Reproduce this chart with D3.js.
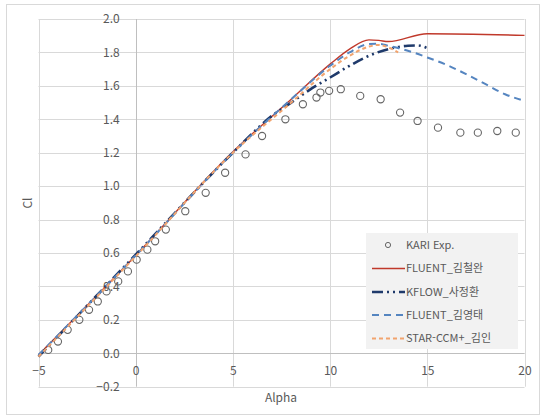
<!DOCTYPE html>
<html lang="ko">
<head>
<meta charset="utf-8">
<script src="https://cdn.jsdelivr.net/npm/d3@7"></script>
<style>
  body { margin: 0; background: #fff; }
  svg text { font-family: "Malgun Gothic", "Noto Sans CJK KR", sans-serif; fill: #595959; }
</style>
</head>
<body>
<svg id="chart" width="542" height="417"></svg>
<script>
// experiment (KARI)
var expAlpha = [-4.5, -4, -3.5, -2.9, -2.4, -1.95, -1.5, -0.9, -0.4, 0.05, 0.6, 1, 1.55, 2.55, 3.6, 4.6, 5.65, 6.5, 7.7, 8.6, 9.3, 9.5, 9.95, 10.55, 11.55, 12.6, 13.6, 14.5, 15.55, 16.7, 17.6, 18.6, 19.55];
var expCl    = [0.02, 0.07, 0.14, 0.2, 0.26, 0.31, 0.37, 0.43, 0.49, 0.56, 0.62, 0.67, 0.74, 0.85, 0.96, 1.08, 1.19, 1.3, 1.4, 1.49, 1.53, 1.56, 1.57, 1.58, 1.54, 1.52, 1.44, 1.39, 1.35, 1.32, 1.32, 1.33, 1.32];

// CFD results
var fluentKimAlpha = [-5, 0, 5, 8, 10, 11, 12, 12.5, 13, 15, 20];
var fluentKimCl    = [-0.01, 0.585, 1.205, 1.52, 1.73, 1.82, 1.875, 1.872, 1.865, 1.912, 1.902];

var kflowAlpha = [-5, 0, 5, 7, 8, 9, 10, 11, 12, 13, 14, 14.5, 15];
var kflowCl    = [-0.02, 0.59, 1.2, 1.42, 1.5, 1.58, 1.65, 1.72, 1.78, 1.82, 1.84, 1.842, 1.825];

var fluentYtAlpha = [-5, 0, 5, 8, 10, 11, 12, 12.5, 13, 14, 15, 16, 17, 18, 19, 20];
var fluentYtCl    = [-0.01, 0.585, 1.2, 1.52, 1.72, 1.8, 1.85, 1.852, 1.84, 1.81, 1.77, 1.725, 1.67, 1.61, 1.55, 1.51];

var starAlpha = [-5, 0, 5, 8, 10, 11, 12, 12.5, 13, 13.5];
var starCl    = [-0.02, 0.58, 1.2, 1.5, 1.7, 1.78, 1.835, 1.845, 1.83, 1.8];

var xTicks = [-5, 0, 5, 10, 15, 20];
var yTicks = [-0.2, 0, 0.2, 0.4, 0.6, 0.8, 1.0, 1.2, 1.4, 1.6, 1.8, 2.0];

var series = [
  { name: "FLUENT_김철완", a: fluentKimAlpha, c: fluentKimCl, color: "#c0392b", width: 1.4, dash: null },
  { name: "KFLOW_사정환", a: kflowAlpha, c: kflowCl, color: "#1f3a6b", width: 2.6, dash: "11,4,2,4,2,4" },
  { name: "FLUENT_김영태", a: fluentYtAlpha, c: fluentYtCl, color: "#5585c0", width: 2, dash: "7,5" },
  { name: "STAR-CCM+_김인", a: starAlpha, c: starCl, color: "#f2a46e", width: 2, dash: "4,3" }
];

var svg = d3.select("#chart");

var x = d3.scaleLinear().domain([-5, 20]).range([38.5, 524.5]);
var y = d3.scaleLinear().domain([-0.2, 2.0]).range([386.7, 19]);

// outer frame
svg.append("rect")
  .attr("x", 6.5).attr("y", 4.5).attr("width", 533).attr("height", 410)
  .attr("fill", "#fff").attr("stroke", "#d9d9d9");

// gridlines
svg.append("g").selectAll("line").data(yTicks).enter().append("line")
  .attr("x1", x(-5)).attr("x2", x(20))
  .attr("y1", function(d) { return Math.round(y(d)) + 0.5; })
  .attr("y2", function(d) { return Math.round(y(d)) + 0.5; })
  .attr("stroke", "#d9d9d9");
svg.append("g").selectAll("line").data(xTicks).enter().append("line")
  .attr("y1", y(2.0)).attr("y2", y(-0.2))
  .attr("x1", function(d) { return Math.round(x(d)) + 0.5; })
  .attr("x2", function(d) { return Math.round(x(d)) + 0.5; })
  .attr("stroke", function(d) { return d === 0 ? "#bfbfbf" : "#d9d9d9"; });
svg.append("line")
  .attr("x1", x(-5)).attr("x2", x(20))
  .attr("y1", Math.round(y(0)) + 0.5).attr("y2", Math.round(y(0)) + 0.5)
  .attr("stroke", "#bfbfbf");

// axes cross at the origin
var yAxis = svg.append("g")
  .attr("transform", "translate(" + x(0) + ",0)")
  .call(d3.axisLeft(y).tickValues(yTicks).tickSize(0).tickPadding(16).tickFormat(d3.format(".1f")));
var xAxis = svg.append("g")
  .attr("transform", "translate(0," + y(0) + ")")
  .call(d3.axisBottom(x).tickValues(xTicks).tickSize(0).tickPadding(13));
[yAxis, xAxis].forEach(function(g) {
  g.select(".domain").remove();
  g.selectAll("text").attr("font-size", 12).attr("font-family", null).attr("fill", "#595959");
});

svg.append("text").attr("x", 281).attr("y", 402).attr("text-anchor", "middle")
  .attr("font-size", 12).text("Alpha");
svg.append("text").attr("transform", "translate(32,203) rotate(-90)").attr("text-anchor", "middle")
  .attr("font-size", 12).text("Cl");

// experiment markers
svg.append("g").selectAll("circle").data(expAlpha).enter().append("circle")
  .attr("cx", function(d) { return x(d); })
  .attr("cy", function(d, i) { return y(expCl[i]); })
  .attr("r", 3.6)
  .attr("fill", "none").attr("stroke", "#666").attr("stroke-width", 1.1);

// CFD curves
var line = d3.line()
  .x(function(d) { return x(d[0]); })
  .y(function(d) { return y(d[1]); })
  .curve(d3.curveMonotoneX);
series.forEach(function(s) {
  svg.append("path")
    .datum(d3.zip(s.a, s.c))
    .attr("d", line)
    .attr("fill", "none")
    .attr("stroke", s.color)
    .attr("stroke-width", s.width)
    .attr("stroke-dasharray", s.dash);
});

// legend
var lg = svg.append("g");
lg.append("rect").attr("x", 366).attr("y", 233).attr("width", 152).attr("height", 116).attr("fill", "#f2f2f2");
var rowY = [245, 268.5, 292, 315, 338.5];
lg.append("circle").attr("cx", 388).attr("cy", rowY[0]).attr("r", 2.6)
  .attr("fill", "none").attr("stroke", "#666");
lg.append("text").attr("x", 406).attr("y", rowY[0]).attr("dy", "0.35em").attr("font-size", 11).text("KARI Exp.");
series.forEach(function(s, i) {
  var yy = rowY[i + 1];
  lg.append("line").attr("x1", 372).attr("x2", 405).attr("y1", yy).attr("y2", yy)
    .attr("stroke", s.color).attr("stroke-width", s.width).attr("stroke-dasharray", s.dash);
  lg.append("text").attr("x", 406).attr("y", yy).attr("dy", "0.35em").attr("font-size", 11).text(s.name);
});
</script>
</body>
</html>
